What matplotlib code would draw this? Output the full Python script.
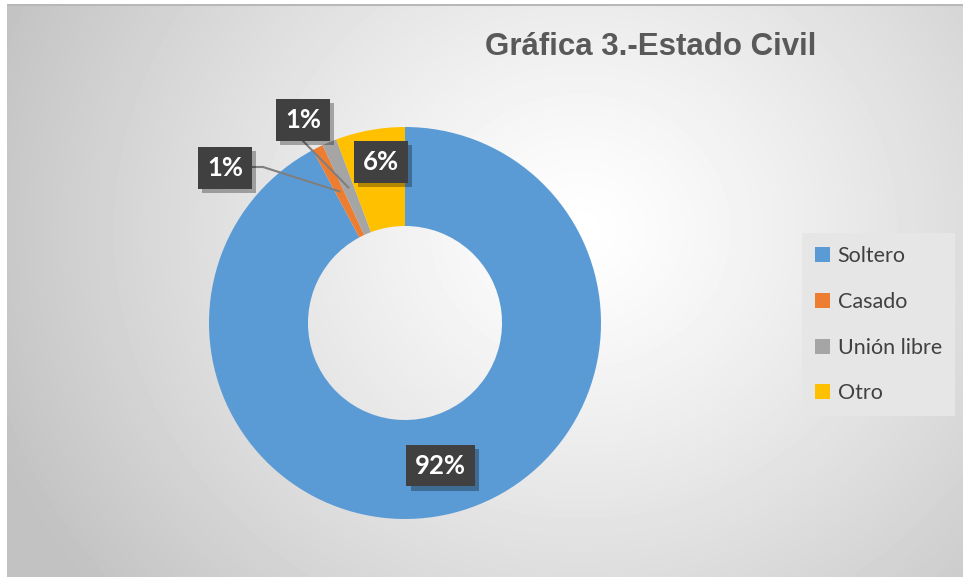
import numpy as np
import matplotlib.pyplot as plt
import matplotlib.patheffects as pe

# datos de la gráfica
categorias = ['Soltero', 'Casado', 'Unión libre', 'Otro']
porcentajes = [92.2, 0.9, 1.2, 5.7]
colores = ['#5B9BD5', '#ED7D31', '#A5A5A5', '#FFC000']
etiquetas = [f'{round(p)}%' for p in porcentajes]

W, H = 963, 577
fig = plt.figure(figsize=(W / 100, H / 100), dpi=100, facecolor='white')

# fondo con degradado radial
bg = fig.add_axes([7 / W, 0, (W - 7) / W, (H - 4) / H], zorder=-5)
bg.axis('off')
X, Y = np.meshgrid(np.arange(7, W), np.arange(4, H))
d = np.hypot(X - 580, (Y - 230) * 1.1)
v = np.clip(1.0 - 0.25 * (d / 650) ** 1.2, 0.76, 1.0)
bg.imshow(v, cmap='gray', vmin=0, vmax=1, aspect='auto', interpolation='bilinear')
bg.plot([0, W], [0, 0], color='#b8b8b8', lw=1.5)
bg.set_xlim(-0.5, W - 7.5)
bg.set_ylim(H - 4.5, -0.5)

# dona
cx, cy, R = 405, 323, 196
ax = fig.add_axes([(cx - R) / W, (H - cy - R) / H, 2 * R / W, 2 * R / H])
wedges, _ = ax.pie(porcentajes, colors=colores, startangle=90, counterclock=False,
                   radius=1, wedgeprops=dict(width=0.505, linewidth=0))
ax.set_xlim(-1, 1)
ax.set_ylim(-1, 1)
ax.axis('off')


def px(x, y):
    # pixeles de la imagen -> coordenadas de la dona
    return (x - cx) / R, (cy - y) / R


def mid(w, r=0.75):
    a = np.deg2rad((w.theta1 + w.theta2) / 2)
    return r * np.cos(a), r * np.sin(a)


pos = [mid(wedges[0]), px(225, 168), px(303, 120), px(381, 162)]

# líneas guía
mx, my = mid(wedges[1])
ex, ey = px(263, 167)
sx, sy = px(252, 167)
ax.plot([sx, ex, mx], [sy, ey, my], color='#7f7f7f', lw=1.5, clip_on=False, zorder=3)
mx, my = mid(wedges[2])
sx, sy = px(303, 141)
ax.plot([sx, mx], [sy, my], color='#7f7f7f', lw=1.5, clip_on=False, zorder=3)

for (x, y), lab in zip(pos, etiquetas):
    t = ax.text(x, y, lab, ha='center', va='center', color='white', fontsize=18.5,
                fontweight='bold', family=['Lato', 'DejaVu Sans'], zorder=5,
                bbox=dict(boxstyle='square,pad=0.34', fc='#404040', ec='none'))
    t.get_bbox_patch().set_path_effects([
        pe.SimplePatchShadow(offset=(3, -3), shadow_rgbFace='black', alpha=0.3),
        pe.Normal()])

fig.text(651 / W, 1 - 47 / H, 'Gráfica 3.-Estado Civil', ha='center', va='center',
         fontsize=22.5, fontweight='bold', family=['Liberation Sans', 'DejaVu Sans'],
         color='#595959')

leg = fig.legend(wedges, categorias, loc='upper left', bbox_to_anchor=(802 / W, 1 - 233 / H),
                 frameon=True, fancybox=False, facecolor='#e6e6e6', edgecolor='none',
                 framealpha=1, prop={'family': ['Lato', 'DejaVu Sans'], 'size': 15.5},
                 labelcolor='#404040', handlelength=0.7, handleheight=0.7,
                 handletextpad=0.35, labelspacing=1.2, borderpad=0.6, borderaxespad=0)

fig.savefig('out.png', dpi=100)
